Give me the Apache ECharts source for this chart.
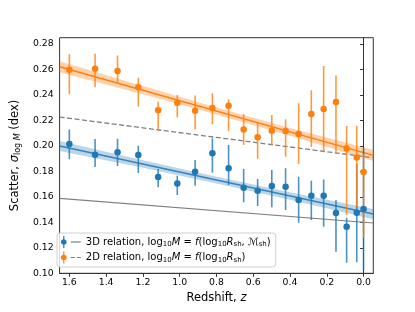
<!DOCTYPE html>
<html>
<head>
<meta charset="utf-8">
<script src="https://cdn.jsdelivr.net/npm/echarts@6/dist/echarts.min.js"></script>
<style>html,body{margin:0;padding:0;background:#fff;}#c{width:415px;height:312px;}</style>
</head>
<body>
<div id="c"></div>
<script>
// Redshift of each snapshot
const zVals = [1.60, 1.46, 1.338, 1.225, 1.117, 1.013, 0.916, 0.822, 0.734, 0.652, 0.576, 0.499, 0.424, 0.353, 0.284, 0.217, 0.150, 0.092, 0.037, 0.0];
// 3D relation scatter and error bar limits
const sigma3D = [0.2016, 0.193, 0.195, 0.1929, 0.1756, 0.1706, 0.1798, 0.1942, 0.1824, 0.1672, 0.1648, 0.1685, 0.168, 0.1575, 0.1609, 0.1609, 0.1473, 0.1366, 0.1476, 0.1505];
const hi3D = [0.213, 0.2054, 0.2057, 0.2001, 0.1819, 0.1766, 0.189, 0.206, 0.2007, 0.1819, 0.174, 0.1811, 0.1824, 0.1758, 0.1727, 0.1737, 0.1575, 0.1436, 0.186, 0.1985];
const lo3D = [0.1895, 0.1834, 0.1842, 0.1787, 0.1675, 0.1615, 0.1688, 0.179, 0.1693, 0.1557, 0.1529, 0.1518, 0.1497, 0.1397, 0.1418, 0.1366, 0.117, 0.1083, 0.1086, 0.1026];
// 2D relation scatter and error bar limits
const sigma2D = [0.2598, 0.2606, 0.2588, 0.246, 0.228, 0.2339, 0.2276, 0.2298, 0.2316, 0.213, 0.2068, 0.2119, 0.2117, 0.2093, 0.225, 0.229, 0.2345, 0.198, 0.191, 0.1795];
const hi2D = [0.272, 0.2724, 0.271, 0.2535, 0.2347, 0.240, 0.2397, 0.2413, 0.2366, 0.2248, 0.2182, 0.2243, 0.2209, 0.2335, 0.2437, 0.2627, 0.2554, 0.2156, 0.2158, 0.1935];
const lo2D = [0.2405, 0.246, 0.250, 0.231, 0.213, 0.2225, 0.213, 0.217, 0.2117, 0.2007, 0.190, 0.2007, 0.1915, 0.1858, 0.1994, 0.1955, 0.194, 0.1458, 0.152, 0.1277];
// Linear fits (end points) and reference relations
const fitZ = [1.653, -0.053];
const fit3D = [0.1999, 0.1465];
const fit2D = [0.2622, 0.1926];
const ref3D = [0.1589, 0.1395];
const ref2D = [0.2227, 0.1907];
// Confidence bands of the fits
const bandZ = [1.653, 1.2, 0.8, 0.4, -0.053];
const band3DUp = [0.2038, 0.1888, 0.1759, 0.1637, 0.1505];
const band3DLo = [0.1960, 0.1828, 0.1705, 0.1577, 0.1425];
const band2DUp = [0.2666, 0.2470, 0.2301, 0.2141, 0.1970];
const band2DLo = [0.2578, 0.2406, 0.2247, 0.2081, 0.1882];
// Tick labels
const xTicks = [0.0, 0.2, 0.4, 0.6, 0.8, 1.0, 1.2, 1.4, 1.6];
const yTicks = [0.10, 0.12, 0.14, 0.16, 0.18, 0.20, 0.22, 0.24, 0.26, 0.28];

const BLUE = '#1f77b4', ORANGE = '#ff7f0e', GRAY = '#808080';
const FONT = 'DejaVu Sans';

function errSeries(name, lo, hi, color) {
  return {
    type: 'custom', name: name, clip: true, z: 5,
    data: zVals.map((z, i) => [z, lo[i], hi[i]]),
    encode: {x: 0, y: [1, 2]},
    renderItem: function (params, api) {
      const a = api.coord([api.value(0), api.value(1)]);
      const b = api.coord([api.value(0), api.value(2)]);
      return {type: 'line', shape: {x1: a[0], y1: a[1], x2: b[0], y2: b[1]},
        style: {stroke: color, lineWidth: 1.6, opacity: 0.8}};
    },
    silent: true
  };
}
function bandSeries(up, lo, color) {
  return {
    type: 'custom', clip: true, z: 2, silent: true,
    data: bandZ.map((z, i) => [z, lo[i], up[i]]),
    encode: {x: 0, y: [1, 2]},
    renderItem: function (params, api) {
      if (params.dataIndex !== 0) return null;
      const pts = [];
      for (let i = 0; i < bandZ.length; i++) pts.push(api.coord([bandZ[i], up[i]]));
      for (let i = bandZ.length - 1; i >= 0; i--) pts.push(api.coord([bandZ[i], lo[i]]));
      return {type: 'polygon', shape: {points: pts}, style: {fill: color}};
    }
  };
}
function lineSeries(name, ys, color, type, width, z) {
  return {
    type: 'line', name: name, symbol: 'none', z: z, silent: true,
    data: fitZ.map((x, i) => [x, ys[i]]),
    lineStyle: {color: color, width: width, type: type},
    itemStyle: {color: color}
  };
}
function ptSeries(name, ys, color, z) {
  return {
    type: 'scatter', name: name, symbol: 'circle', symbolSize: 6.5, z: z, silent: true,
    data: zVals.map((x, i) => [x, ys[i]]),
    itemStyle: {color: color, opacity: 1}
  };
}

const text3D = '3D relation, log{s|10}{i|M} = {i|f}(log{s|10}{i|R}{s|sh}, {n|ℳ}{s|sh})';
const text2D = '2D relation, log{s|10}{i|M} = {i|f}(log{s|10}{i|R}{s|sh})';
const errIcon = 'path://M2.4,0h1.2v12h-1.2z M0.2,6a2.8,2.8 0 1,1 5.6,0a2.8,2.8 0 1,1 -5.6,0z';
const solidIcon = 'path://M0,5.4h10v1.2h-10z';
const dashIcon = 'path://M0,5.4h4v1.2h-4z M6,5.4h4v1.2h-4z';

const legendText = {fontFamily: FONT, fontSize: 10, color: '#000', lineHeight: 12,
  rich: {n: {fontSize: 10, fontFamily: FONT, lineHeight: 12},
         i: {fontSize: 10, fontStyle: 'italic', fontFamily: FONT, lineHeight: 12},
         s: {fontSize: 7, fontFamily: FONT, lineHeight: 7, verticalAlign: 'bottom'}}};
function legendFmt(name) {
  if (name === 'l3d') return text3D;
  if (name === 'l2d') return text2D;
  return '';
}

const chart = echarts.init(document.getElementById('c'), null, {renderer: 'canvas'});
chart.setOption({
  animation: false,
  backgroundColor: '#fff',
  textStyle: {fontFamily: FONT},
  grid: {left: 51.7, right: 41.7, top: 37.7, bottom: 38.7, show: true, borderColor: '#333', borderWidth: 1, backgroundColor: 'transparent'},
  xAxis: {
    type: 'value', inverse: true, min: -0.053, max: 1.653,
    name: 'Redshift, {i|z}', nameLocation: 'middle', nameGap: 14,
    nameTextStyle: {fontFamily: FONT, fontSize: 11.5, color: '#000', rich: {i: {fontStyle: 'italic', fontSize: 11.5, fontFamily: FONT}}},
    axisLine: {show: true, lineStyle: {color: '#333', width: 1}},
    axisTick: {show: true, inside: false, length: 3.5, lineStyle: {color: '#333', width: 1}, customValues: xTicks},
    axisLabel: {show: true, margin: 5, fontSize: 9.3, fontFamily: FONT, color: '#000', customValues: xTicks, formatter: v => v.toFixed(1)},
    splitLine: {show: false}
  },
  yAxis: {
    type: 'value', min: 0.10, max: 0.285,
    name: 'Scatter, {i|σ}{s|log }{si|M} (dex)', nameLocation: 'middle', nameGap: 31,
    nameTextStyle: {fontFamily: FONT, fontSize: 11.5, color: '#000', lineHeight: 14,
      rich: {i: {fontStyle: 'italic', fontSize: 11.5, fontFamily: FONT, lineHeight: 14},
             s: {fontSize: 8, fontFamily: FONT, lineHeight: 8, verticalAlign: 'bottom'},
             si: {fontSize: 8, fontStyle: 'italic', fontFamily: FONT, lineHeight: 8, verticalAlign: 'bottom'}}},
    axisLine: {show: true, lineStyle: {color: '#333', width: 1}},
    axisTick: {show: true, inside: false, length: 3.5, lineStyle: {color: '#333', width: 1}, customValues: yTicks},
    axisLabel: {show: true, margin: 6, fontSize: 9.3, fontFamily: FONT, color: '#000', customValues: yTicks, formatter: v => v.toFixed(2)},
    splitLine: {show: false}
  },
  legend: [{
    left: 57, top: 233, orient: 'horizontal', selectedMode: false, z: 10,
    padding: [3, 5, 19, 4], itemGap: -3, itemWidth: 10, itemHeight: 12,
    backgroundColor: 'rgba(255,255,255,0.8)', borderColor: '#d0d0d0', borderWidth: 1, borderRadius: 3,
    data: [
      {name: 'p3d', icon: errIcon},
      {name: 'l3d', icon: solidIcon, itemStyle: {color: GRAY}}
    ],
    formatter: legendFmt, textStyle: legendText
  }, {
    left: 61, top: 251.5, orient: 'horizontal', selectedMode: false, z: 11,
    padding: 0, itemGap: -3, itemWidth: 10, itemHeight: 12,
    data: [
      {name: 'p2d', icon: errIcon},
      {name: 'l2d', icon: dashIcon, itemStyle: {color: GRAY}}
    ],
    formatter: legendFmt, textStyle: legendText
  }],
  series: [
    lineSeries('l3d', ref3D, GRAY, 'solid', 1.2, 1),
    lineSeries('l2d', ref2D, GRAY, [5, 2.5], 1.3, 1),
    bandSeries(band3DUp, band3DLo, 'rgba(31,119,180,0.3)'),
    bandSeries(band2DUp, band2DLo, 'rgba(255,127,14,0.35)'),
    lineSeries('f3d', fit3D, '#3483bd', 'solid', 1.5, 3),
    lineSeries('f2d', fit2D, ORANGE, 'solid', 1.5, 3),
    errSeries('e3d', lo3D, hi3D, BLUE),
    ptSeries('p3d', sigma3D, BLUE, 6),
    errSeries('e2d', lo2D, hi2D, ORANGE),
    ptSeries('p2d', sigma2D, ORANGE, 8)
  ]
});
</script>
</body>
</html>
